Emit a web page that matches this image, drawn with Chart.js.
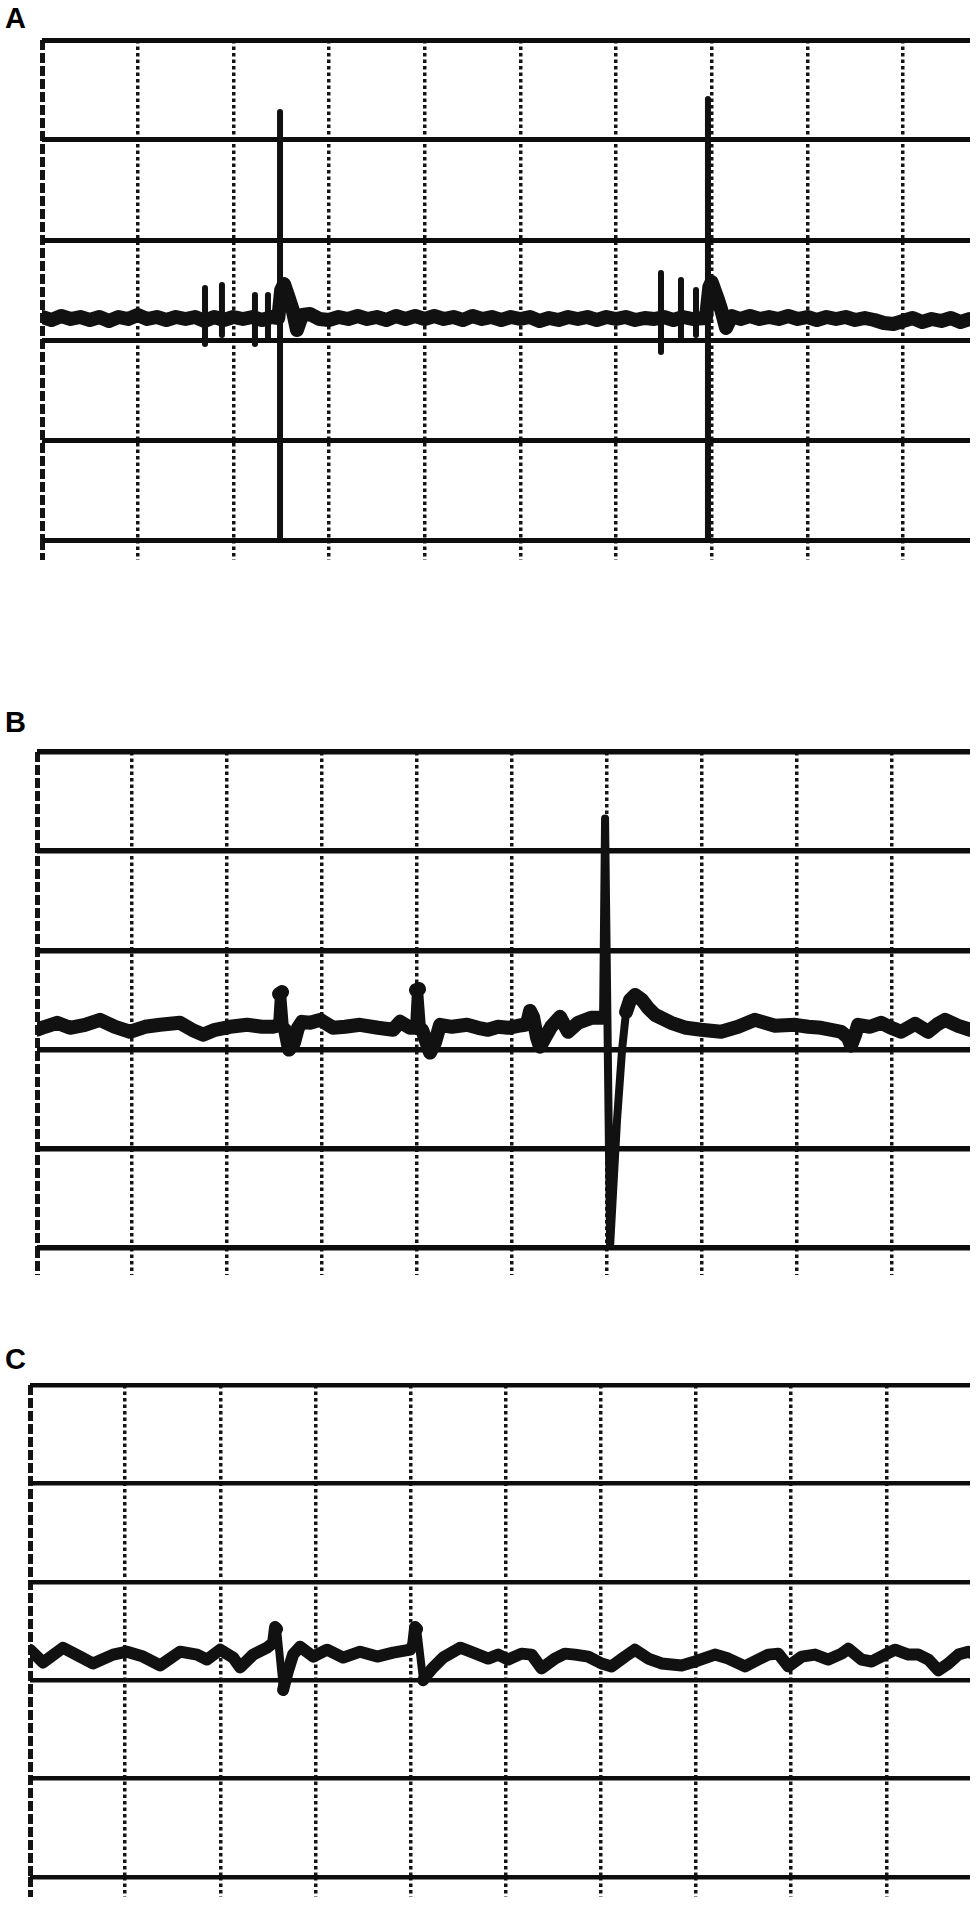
<!DOCTYPE html>
<html lang="en">
<head>
<meta charset="utf-8">
<title>ECG strips A-C</title>
<script src="https://cdn.jsdelivr.net/npm/chart.js@4.4.1/dist/chart.umd.min.js"></script>
<style>
  html, body { margin: 0; padding: 0; background: #fff; }
  body { position: relative; width: 976px; height: 1912px; overflow: hidden; }
  canvas { position: absolute; left: 0; }
  .label { position: absolute; font: bold 29px "Liberation Sans", Arial, sans-serif; line-height: 29px; color: #000; }
</style>
</head>
<body>
<div class="label" style="left:5px; top:4px">A</div>
<div class="label" style="left:5px; top:708px">B</div>
<div class="label" style="left:5px; top:1345px">C</div>
<canvas id="stripA" width="976" height="580" style="top:0"></canvas>
<canvas id="stripB" width="976" height="600" style="top:700px"></canvas>
<canvas id="stripC" width="976" height="572" style="top:1340px"></canvas>
<script>
// grid divisions (big boxes)
const gridX = [0, 1, 2, 3, 4, 5, 6, 7, 8, 9];
const gridY = [0, 1, 2, 3, 4, 5];

// strip A: noisy baseline + pacing artefacts and two tall spikes
const aTraceX = [
  0, 0.1, 0.2, 0.3, 0.4, 0.5, 0.6, 0.7, 0.8, 0.9,
  1.0, 1.1, 1.2, 1.3, 1.4, 1.5, 1.6, 1.7, 1.8, 1.9,
  2.0, 2.1, 2.2, 2.3, 2.4, 2.47, 2.5, 2.53, 2.58, 2.62, 2.665, 2.72, 2.8, 2.9,
  3.0, 3.1, 3.2, 3.3, 3.4, 3.5, 3.6, 3.7, 3.8, 3.9,
  4.0, 4.1, 4.2, 4.3, 4.4, 4.5, 4.6, 4.7, 4.8, 4.9,
  5.0, 5.1, 5.2, 5.3, 5.4, 5.5, 5.6, 5.7, 5.8, 5.9,
  6.0, 6.1, 6.2, 6.3, 6.4, 6.5, 6.6, 6.7, 6.8, 6.94, 6.975, 7.0, 7.06, 7.1, 7.15, 7.21,
  7.3, 7.4, 7.5, 7.6, 7.7, 7.8, 7.9,
  8.0, 8.1, 8.2, 8.3, 8.4, 8.5, 8.6, 8.7, 8.8, 8.9,
  9.0, 9.1, 9.2, 9.3, 9.4, 9.5, 9.6, 9.7
];
const aTraceY = [
  2.23, 2.20, 2.24, 2.21, 2.23, 2.20, 2.23, 2.19, 2.23, 2.21,
  2.25, 2.21, 2.23, 2.20, 2.23, 2.21, 2.23, 2.19, 2.23, 2.20,
  2.23, 2.21, 2.23, 2.20, 2.23, 2.22, 2.50, 2.56, 2.42, 2.30, 2.10, 2.25, 2.26, 2.21,
  2.20, 2.23, 2.21, 2.24, 2.21, 2.23, 2.20, 2.24, 2.21, 2.24,
  2.21, 2.24, 2.21, 2.23, 2.20, 2.24, 2.21, 2.23, 2.20, 2.23,
  2.21, 2.23, 2.19, 2.22, 2.20, 2.23, 2.21, 2.23, 2.20, 2.23,
  2.21, 2.23, 2.20, 2.22, 2.21, 2.23, 2.20, 2.23, 2.21, 2.22, 2.53, 2.58, 2.42, 2.30, 2.12, 2.24,
  2.21, 2.24, 2.21, 2.23, 2.21, 2.24, 2.21,
  2.23, 2.20, 2.23, 2.21, 2.23, 2.20, 2.22, 2.20, 2.17, 2.16,
  2.19, 2.22, 2.18, 2.21, 2.19, 2.22, 2.18, 2.21
];
const aSpikeX = [
  1.704, 1.704, 1.704, 1.881, 1.881, 1.881, 2.226, 2.226, 2.226, 2.362, 2.362, 2.362,
  2.488, 2.488, 2.488,
  6.470, 6.470, 6.470, 6.679, 6.679, 6.679, 6.836, 6.836, 6.836,
  6.961, 6.961
];
const aSpikeY = [
  2.52, 1.96, null, 2.55, 2.05, null, 2.45, 1.96, null, 2.45, 2.01, null,
  4.28, 0.03, null,
  2.67, 1.88, null, 2.60, 2.03, null, 2.50, 2.05, null,
  4.41, 0.01
];

// strip B
const bTraceX = [
  0, 0.084, 0.211, 0.347, 0.505, 0.663, 0.821, 0.979, 1.137, 1.295,
  1.505, 1.632, 1.747, 1.874, 2.032, 2.211, 2.368, 2.484, 2.526, 2.547,
  2.579, 2.611, 2.653, 2.705, 2.747, 2.789, 2.874, 2.979, 3.116, 3.242,
  3.400, 3.589, 3.747, 3.821, 3.926, 3.968, 3.989, 4.021, 4.053, 4.137,
  4.189, 4.242, 4.368, 4.526, 4.642, 4.747, 4.853, 4.958, 5.063, 5.137,
  5.168, 5.189, 5.221, 5.263, 5.295, 5.347, 5.411, 5.505, 5.589, 5.695,
  5.832, 5.926, 5.958, 5.979, 6.032, 6.105, 6.158, 6.200, 6.242, 6.295,
  6.368, 6.432, 6.505, 6.674, 6.832, 6.989, 7.200, 7.379, 7.558, 7.768,
  7.979, 8.116, 8.253, 8.463, 8.537, 8.568, 8.611, 8.642, 8.768, 8.884,
  8.989, 9.095, 9.242, 9.379, 9.484, 9.558, 9.695, 9.821
];
const bTraceY = [
  2.20, 2.23, 2.27, 2.22, 2.25, 2.30, 2.23, 2.18, 2.23, 2.25,
  2.27, 2.20, 2.15, 2.20, 2.23, 2.25, 2.23, 2.23, 2.24, 2.56,
  2.58, 2.20, 2.00, 2.07, 2.22, 2.28, 2.27, 2.30, 2.22, 2.23,
  2.25, 2.22, 2.20, 2.28, 2.22, 2.22, 2.60, 2.61, 2.20, 1.97,
  2.07, 2.25, 2.23, 2.25, 2.22, 2.20, 2.23, 2.22, 2.24, 2.25,
  2.30, 2.39, 2.33, 2.12, 2.03, 2.12, 2.23, 2.33, 2.18, 2.27,
  2.32, 2.32, 2.32, 4.33, 0.02, 1.29, 2.00, 2.38, 2.50, 2.55,
  2.50, 2.42, 2.35, 2.27, 2.22, 2.20, 2.18, 2.23, 2.30, 2.24,
  2.25, 2.23, 2.22, 2.18, 2.12, 2.04, 2.15, 2.25, 2.23, 2.27,
  2.22, 2.18, 2.26, 2.18, 2.26, 2.30, 2.24, 2.20
];

// strip C
const cTraceX = [
  0, 0.137, 0.347, 0.526, 0.662, 0.873, 1.020, 1.188, 1.367, 1.577,
  1.756, 1.861, 1.998, 2.135, 2.208, 2.345, 2.492, 2.555, 2.576, 2.597,
  2.660, 2.713, 2.765, 2.839, 2.976, 3.123, 3.291, 3.470, 3.649, 3.817,
  3.996, 4.027, 4.048, 4.069, 4.132, 4.185, 4.238, 4.343, 4.522, 4.658,
  4.816, 4.921, 5.026, 5.166, 5.272, 5.377, 5.517, 5.622, 5.728, 5.867,
  6.008, 6.113, 6.253, 6.358, 6.498, 6.638, 6.849, 6.989, 7.199, 7.340,
  7.515, 7.655, 7.760, 7.865, 7.971, 8.111, 8.251, 8.391, 8.531, 8.601,
  8.741, 8.846, 8.987, 9.092, 9.232, 9.338, 9.443, 9.548, 9.653, 9.758,
  9.863, 9.884
];
const cTraceY = [
  2.31, 2.18, 2.33, 2.24, 2.17, 2.26, 2.29, 2.24, 2.15, 2.29,
  2.26, 2.21, 2.31, 2.23, 2.13, 2.26, 2.33, 2.38, 2.54, 2.52,
  1.90, 2.10, 2.26, 2.34, 2.24, 2.31, 2.23, 2.29, 2.24, 2.28,
  2.31, 2.36, 2.54, 2.52, 2.00, 2.07, 2.13, 2.23, 2.33, 2.28,
  2.22, 2.26, 2.21, 2.27, 2.26, 2.12, 2.22, 2.27, 2.26, 2.24,
  2.17, 2.14, 2.24, 2.31, 2.22, 2.17, 2.15, 2.19, 2.26, 2.22,
  2.14, 2.21, 2.26, 2.27, 2.14, 2.24, 2.26, 2.21, 2.27, 2.32,
  2.21, 2.19, 2.26, 2.31, 2.26, 2.26, 2.21, 2.10, 2.17, 2.26,
  2.29, 2.28
];

const toPoints = (xs, ys) => xs.map((x, i) => ({ x, y: ys[i] }));

// steep strokes (spikes) are drawn thinner than the baseline band
const steep = (s) => {
  const dx = Math.abs(s.p1.x - s.p0.x);
  const dy = Math.abs(s.p1.y - s.p0.y);
  return dy > 24 && dy > 3 * dx;
};

const traceSet = (xs, ys, width, thin) => ({
  data: toPoints(xs, ys),
  borderColor: '#111',
  borderWidth: width,
  pointRadius: 0,
  tension: 0,
  borderCapStyle: 'round',
  borderJoinStyle: 'round',
  spanGaps: false,
  segment: thin ? { borderWidth: (s) => (steep(s) ? thin : undefined) } : undefined,
});

const drawStrip = (id, { xMax, padding, tickLength, rowWidth, datasets }) => {
  const dash = (c) => (c.index === 0 ? [10, 3] : [3.5, 3]);
  const colWidth = (c) => (c.index === 0 ? 5 : 3.5);

  return new Chart(document.getElementById(id), {
    type: 'line',
    data: { datasets },
    options: {
      responsive: false,
      animation: false,
      events: [],
      layout: { padding },
      plugins: { legend: { display: false }, tooltip: { enabled: false } },
      scales: {
        x: {
          type: 'linear',
          min: 0,
          max: xMax,
          bounds: 'data',
          afterBuildTicks: (s) => { s.ticks = gridX.map((value) => ({ value })); },
          afterFit: (s) => { s.height = tickLength; },
          ticks: { display: false },
          grid: {
            color: '#141414',
            lineWidth: colWidth,
            tickWidth: colWidth,
            tickColor: '#141414',
            drawTicks: true,
            tickLength,
            tickBorderDash: dash,
          },
          border: { display: false, dash },
        },
        y: {
          type: 'linear',
          min: 0,
          max: 5,
          bounds: 'data',
          afterBuildTicks: (s) => { s.ticks = gridY.map((value) => ({ value })); },
          afterFit: (s) => { s.width = 0; },
          ticks: { display: false },
          grid: { color: '#0d0d0d', lineWidth: rowWidth, drawTicks: false, tickLength: 0 },
          border: { display: false },
        },
      },
    },
  });
};

drawStrip('stripA', {
  xMax: 9.70,
  padding: { left: 42, top: 40, right: 6, bottom: 20 },
  tickLength: 20,
  rowWidth: 5,
  datasets: [
    traceSet(aSpikeX, aSpikeY, 6),
    traceSet(aTraceX, aTraceY, 14),
  ],
});

drawStrip('stripB', {
  xMax: 9.82,
  padding: { left: 37, top: 52, right: 6, bottom: 25 },
  tickLength: 27,
  rowWidth: 5.5,
  datasets: [traceSet(bTraceX, bTraceY, 14, 8)],
});

drawStrip('stripC', {
  xMax: 9.88,
  padding: { left: 30, top: 45, right: 6, bottom: 15 },
  tickLength: 20,
  rowWidth: 4.5,
  datasets: [traceSet(cTraceX, cTraceY, 12, 8)],
});
</script>
</body>
</html>
